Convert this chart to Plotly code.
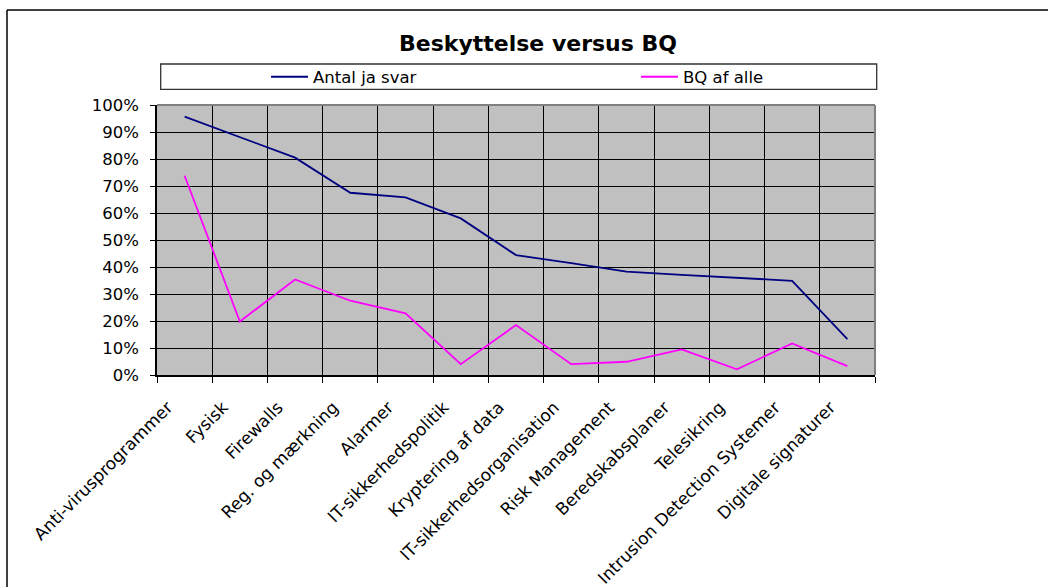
import plotly.graph_objects as go

# Security measures in place vs. BQ share
categories = [
    "Anti-virusprogrammer", "Fysisk", "Firewalls", "Reg. og mærkning",
    "Alarmer", "IT-sikkerhedspolitik", "Kryptering af data",
    "IT-sikkerhedsorganisation", "Risk Management", "Beredskabsplaner",
    "Telesikring", "Intrusion Detection Systemer", "Digitale signaturer",
]
antal_ja_svar = [0.957, 0.880, 0.805, 0.675, 0.658, 0.580, 0.444,
                 0.414, 0.383, 0.371, 0.360, 0.349, 0.133]
bq_af_alle = [0.738, 0.198, 0.354, 0.275, 0.228, 0.040, 0.185,
              0.040, 0.049, 0.095, 0.021, 0.117, 0.033]
y_ticks = [i / 10 for i in range(11)]

FONT = "DejaVu Sans"
W, H = 1048, 587
L, R, T, B = 157, 875, 105, 375  # plot area in pixels


def px_x(x):
    return (x - L) / (R - L)


def px_y(y):
    return (B - y) / (B - T)


fig = go.Figure()
fig.add_trace(go.Scatter(
    x=categories, y=antal_ja_svar, mode="lines", name="Antal ja svar",
    line=dict(color="#000080", width=1.8),
    legendwidth=318,
))
fig.add_trace(go.Scatter(
    x=categories, y=bq_af_alle, mode="lines", name="BQ af alle",
    line=dict(color="#FF00FF", width=1.8),
    legendwidth=120,
))

shapes = [
    # outer chart frame (top and left edges; the rest runs off the page)
    dict(type="line", xref="paper", yref="paper",
         x0=px_x(7), x1=px_x(1100), y0=px_y(10), y1=px_y(10),
         line=dict(color="black", width=1.5), layer="below"),
    dict(type="line", xref="paper", yref="paper",
         x0=px_x(7), x1=px_x(7), y0=px_y(10), y1=px_y(640),
         line=dict(color="black", width=1.5), layer="below"),
    # legend frame
    dict(type="rect", xref="paper", yref="paper",
         x0=px_x(160.7), x1=px_x(876.7), y0=px_y(89.3), y1=px_y(64),
         line=dict(color="#333333", width=1.3), layer="above"),
    # plot area top/right border
    dict(type="line", xref="paper", yref="paper", x0=0, x1=1, y0=1, y1=1,
         line=dict(color="#808080", width=2)),
    dict(type="line", xref="paper", yref="paper", x0=1, x1=1, y0=0, y1=1,
         line=dict(color="#808080", width=2)),
]

fig.update_layout(
    width=W, height=H,
    margin=dict(l=L, r=W - R, t=T, b=H - B, pad=0, autoexpand=False),
    paper_bgcolor="white",
    plot_bgcolor="#C0C0C0",
    font=dict(family=FONT, size=16.5, color="black"),
    title=dict(
        text="<b>Beskyttelse versus BQ</b>",
        font=dict(family=FONT, size=22, color="black"),
        x=538 / W, xanchor="center", xref="container",
        y=1 - 43 / H, yanchor="middle", yref="container",
    ),
    showlegend=True,
    legend=dict(
        orientation="h", xref="paper", yref="paper",
        x=px_x(266), y=px_y(77), xanchor="left", yanchor="middle",
        bgcolor="rgba(0,0,0,0)", borderwidth=0,
        font=dict(family=FONT, size=16.5, color="black"),
        itemwidth=37,
    ),
    xaxis=dict(
        type="category", tickson="boundaries", ticks="outside", ticklen=6,
        tickcolor="black", tickwidth=1,
        showgrid=True, gridcolor="black", gridwidth=1,
        showline=True, linecolor="black", linewidth=1.5,
        tickangle=-45, tickfont=dict(family=FONT, size=17),
        ticklabelshift=-17, ticklabelstandoff=14,
        range=[-0.5, len(categories) - 0.5], zeroline=False,
    ),
    yaxis=dict(
        range=[0, 1], tickvals=y_ticks, tickformat=".0%",
        ticks="outside", ticklen=5, tickcolor="black", tickwidth=1,
        showgrid=True, gridcolor="black", gridwidth=1,
        showline=True, linecolor="black", linewidth=1.5,
        zeroline=False, ticklabelstandoff=8,
        tickfont=dict(family=FONT, size=16.5),
    ),
    shapes=shapes,
)

fig.write_html("out.html")
